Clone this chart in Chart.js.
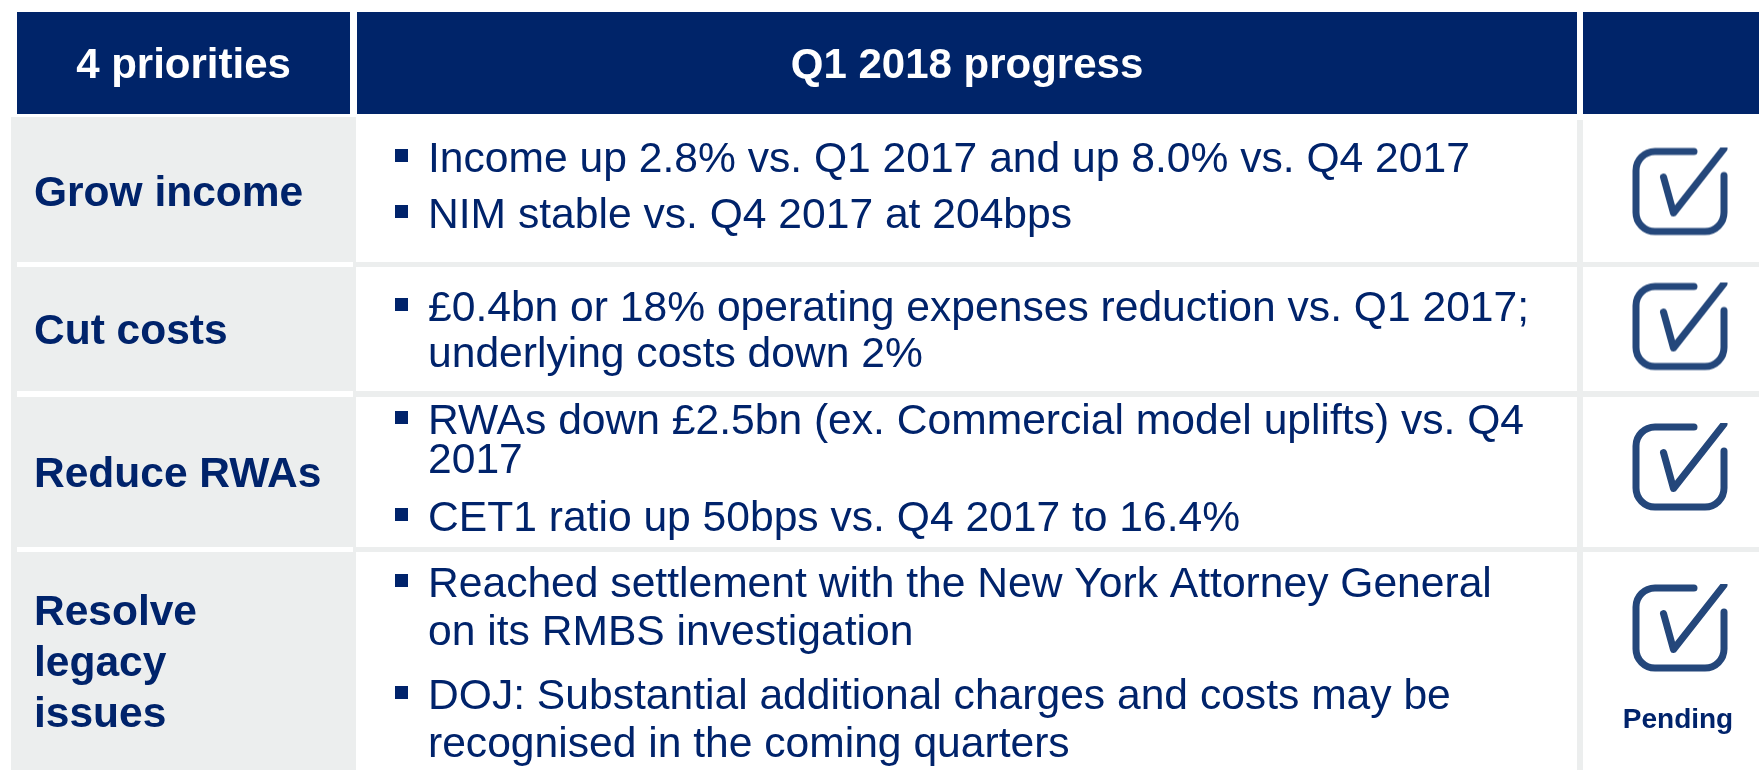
<!DOCTYPE html>
<html lang="en">
<head>
<meta charset="utf-8">
<title>4 priorities – Q1 2018 progress</title>
<script src="https://cdn.jsdelivr.net/npm/chart.js@4/dist/chart.umd.min.js"></script>
<style>
  html, body { margin: 0; padding: 0; background: #fff; }
  #wrap { width: 1759px; height: 770px; }
</style>
</head>
<body>
<div id="wrap"><canvas id="chart" width="1759" height="770"></canvas></div>
<script>
// === Data ===
const headers = ['4 priorities', 'Q1 2018 progress', ''];
const priorities = [['Grow income'], ['Cut costs'], ['Reduce RWAs'], ['Resolve', 'legacy', 'issues']];
const progress = [
  [['Income up 2.8% vs. Q1 2017 and up 8.0% vs. Q4 2017'], ['NIM stable vs. Q4 2017 at 204bps']],
  [['£0.4bn or 18% operating expenses reduction vs. Q1 2017;', 'underlying costs down 2%']],
  [['RWAs down £2.5bn (ex. Commercial model uplifts) vs. Q4', '2017'], ['CET1 ratio up 50bps vs. Q4 2017 to 16.4%']],
  [['Reached settlement with the New York Attorney General', 'on its RMBS investigation'],
   ['DOJ: Substantial additional charges and costs may be', 'recognised in the coming quarters']]
];
const statusDone = [true, true, true, true];
const statusNote = ['', '', '', 'Pending'];

// === Layout (scale units = px of the slide) ===
const W = 1759, H = 770;
const headY = [12, 114];
const headCols = [[17, 350], [357, 1577], [1583, 1759]];
const bodyCols = [[11, 356], [356, 1577], [1583, 1759]];
const rowY = [[120, 262], [267, 391], [397, 547], [552, 770]];
const lineY = [[172, 228], [321, 367], [434, 473, 531], [597, 645, 709, 757]];
const iconX = 1680;
const iconY = [191.5, 326.5, 467, 628];
const noteY = 728;

const NAVY = '#002469', TEXT = '#00236b', GREY = '#eceeee', ICON = '#24477b';
const FONT = '"Liberation Sans", Arial, sans-serif';

// === Checkbox icon as point style ===
function makeCheckIcon() {
  const c = document.createElement('canvas');
  c.width = 104; c.height = 100;
  const g = c.getContext('2d');
  const cx = 52, cy = 50, hw = 44, hh = 40, r = 19;
  g.strokeStyle = ICON; g.lineWidth = 7; g.lineCap = 'round'; g.lineJoin = 'round';
  g.beginPath();
  g.moveTo(cx + 14, cy - hh);
  g.lineTo(cx - hw + r, cy - hh);
  g.arcTo(cx - hw, cy - hh, cx - hw, cy - hh + r, r);
  g.lineTo(cx - hw, cy + hh - r);
  g.arcTo(cx - hw, cy + hh, cx - hw + r, cy + hh, r);
  g.lineTo(cx + hw - r, cy + hh);
  g.arcTo(cx + hw, cy + hh, cx + hw, cy + hh - r, r);
  g.lineTo(cx + hw, cy - 16);
  g.stroke();
  g.save();
  g.beginPath(); g.rect(0, cy - 44, cx + 47.5, 200); g.clip();
  g.beginPath();
  g.moveTo(cx - 16.5, cy - 14.5);
  g.lineTo(cx - 6.5, cy + 21.5);
  g.lineTo(cx + 48, cy - 48);
  g.stroke();
  g.restore();
  return c;
}
const checkIcon = makeCheckIcon();

// === Table plugin: cells and texts through the chart scales ===
const tablePlugin = {
  id: 'table',
  beforeDatasetsDraw(chart) {
    const { ctx, scales: { x, y } } = chart;
    const X = v => x.getPixelForValue(v), Y = v => y.getPixelForValue(v);
    const rect = (x0, y0, x1, y1, c) => {
      ctx.fillStyle = c;
      ctx.fillRect(X(x0), Y(y0), X(x1) - X(x0), Y(y1) - Y(y0));
    };
    ctx.save();
    rect(0, 0, W, H, '#fff');

    // header
    headCols.forEach(([a, b]) => rect(a, headY[0], b, headY[1], NAVY));
    ctx.fillStyle = '#fff';
    ctx.font = 'bold 42px ' + FONT;
    ctx.textAlign = 'center';
    ctx.textBaseline = 'alphabetic';
    headers.forEach((t, i) => {
      const [a, b] = headCols[i];
      ctx.fillText(t, X((a + b) / 2), Y((headY[0] + headY[1]) / 2) + 15);
    });

    // body backgrounds
    rect(bodyCols[0][0], 117, bodyCols[0][1], H, GREY);
    for (let i = 0; i < rowY.length - 1; i++) {
      rect(17, rowY[i][1], 353, rowY[i + 1][0], '#fff');
      rect(bodyCols[1][0], rowY[i][1], W, rowY[i + 1][0], GREY);
    }
    rect(bodyCols[1][1], 120, bodyCols[2][0], H, GREY);

    // first column
    ctx.fillStyle = TEXT;
    ctx.textAlign = 'left';
    ctx.font = 'bold 42.5px ' + FONT;
    priorities.forEach((lines, i) => {
      const mid = (rowY[i][0] + rowY[i][1]) / 2;
      const step = 51;
      lines.forEach((t, k) => {
        const by = mid + 15 + (k - (lines.length - 1) / 2) * step;
        ctx.fillText(t, X(34), Y(by));
      });
    });

    // progress bullets
    ctx.font = '42.6px ' + FONT;
    progress.forEach((bullets, i) => {
      let n = 0;
      bullets.forEach(lines => {
        lines.forEach((t, k) => {
          const by = lineY[i][n++];
          if (k === 0) rect(395, by - 23, 408, by - 10, TEXT);
          ctx.fillStyle = TEXT;
          ctx.fillText(t, X(428), Y(by));
        });
      });
    });
    ctx.restore();
  },
  afterDatasetsDraw(chart) {
    const { ctx, scales: { x, y } } = chart;
    ctx.save();
    ctx.fillStyle = TEXT;
    ctx.font = 'bold 28px ' + FONT;
    ctx.textAlign = 'center';
    statusNote.forEach(t => {
      if (t) ctx.fillText(t, x.getPixelForValue(iconX - 2), y.getPixelForValue(noteY));
    });
    ctx.restore();
  }
};

// === Chart ===
new Chart(document.getElementById('chart'), {
  type: 'scatter',
  data: {
    datasets: [{
      label: 'status',
      data: statusDone.map((d, i) => d ? { x: iconX, y: iconY[i] } : null).filter(Boolean),
      pointStyle: checkIcon,
      pointRadius: 50,
      clip: false
    }]
  },
  options: {
    responsive: false,
    animation: false,
    devicePixelRatio: 1,
    layout: { padding: 0, autoPadding: false },
    plugins: { legend: { display: false }, tooltip: { enabled: false } },
    scales: {
      x: { type: 'linear', min: 0, max: W, display: false },
      y: { type: 'linear', min: 0, max: H, reverse: true, display: false }
    }
  },
  plugins: [tablePlugin]
});
</script>
</body>
</html>
